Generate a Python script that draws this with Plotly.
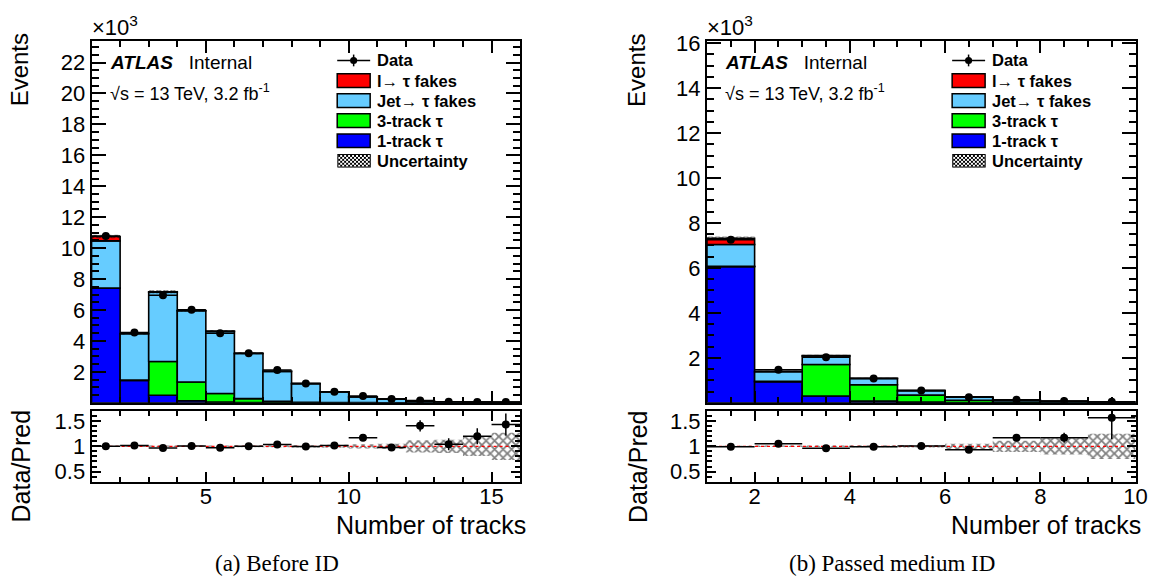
import base64
import numpy as np
import plotly.graph_objects as go

W, H = 1172, 585
FONT = "Liberation Sans"
SERIF = "Liberation Serif"

# ---------------- data (events, x10^3) ----------------
# (a) Before ID : bins 1..16 (number of tracks)
edges_a = list(range(1, 17))
one_track_a = [7.40, 1.45, 0.49, 0.13, 0.04, 0.02, 0.01, 0.005, 0.003, 0.002, 0.001, 0.001, 0.0, 0.0, 0.0]
three_track_a = [0.02, 0.02, 2.18, 1.21, 0.56, 0.25, 0.09, 0.03, 0.01, 0.005, 0.002, 0.001, 0.0, 0.0, 0.0]
jet_fakes_a = [3.05, 2.99, 4.48, 4.61, 4.01, 2.92, 1.93, 1.20, 0.69, 0.37, 0.24, 0.105, 0.068, 0.044, 0.029]
lep_fakes_a = [0.28, 0.02, 0.03, 0.02, 0.02, 0.01, 0.01, 0.01, 0.005, 0.003, 0.002, 0.001, 0.001, 0.001, 0.001]
data_a = [10.78, 4.55, 6.95, 6.02, 4.50, 3.20, 2.12, 1.24, 0.72, 0.445, 0.24, 0.152, 0.072, 0.054, 0.043]
ratio_err_a = [0.01, 0.015, 0.012, 0.013, 0.015, 0.018, 0.022, 0.03, 0.04, 0.06, 0.065, 0.11, 0.12, 0.16, 0.22]
rel_unc_a = [0.01, 0.015, 0.015, 0.015, 0.015, 0.02, 0.02, 0.025, 0.03, 0.04, 0.05, 0.12, 0.13, 0.19, 0.27]

# (b) Passed medium ID : bins 1..10
edges_b = list(range(1, 11))
one_track_b = [6.05, 0.94, 0.30, 0.08, 0.03, 0.015, 0.005, 0.003, 0.001]
three_track_b = [0.02, 0.01, 1.40, 0.72, 0.31, 0.10, 0.03, 0.01, 0.005]
jet_fakes_b = [0.97, 0.43, 0.38, 0.28, 0.20, 0.15, 0.08, 0.056, 0.023]
lep_fakes_b = [0.28, 0.02, 0.02, 0.01, 0.005, 0.003, 0.002, 0.001, 0.001]
data_b = [7.25, 1.47, 2.02, 1.08, 0.55, 0.25, 0.137, 0.082, 0.047]
ratio_err_up_b = [0.012, 0.027, 0.022, 0.03, 0.045, 0.06, 0.06, 0.10, 0.35]
ratio_err_dn_b = [0.012, 0.027, 0.022, 0.03, 0.045, 0.06, 0.06, 0.10, 0.42]
rel_unc_b = [0.01, 0.015, 0.015, 0.02, 0.025, 0.05, 0.11, 0.16, 0.25]

# axis settings
yticks_main_a = [2, 4, 6, 8, 10, 12, 14, 16, 18, 20, 22]
yticks_main_b = [2, 4, 6, 8, 10, 12, 14, 16]
yrange_main_a = [0, 23.4]
yrange_main_b = [0, 16.1]
ratio_range = [0.3, 1.7]
ratio_ticks = [0.5, 1, 1.5]
ratio_ticktext = ["0.5", "1", "1.5"]

labels = ["Data", "l\u2192 \u03c4 fakes", "Jet\u2192 \u03c4 fakes", "3-track \u03c4", "1-track \u03c4", "Uncertainty"]
COL_RED, COL_LB, COL_GREEN, COL_BLUE = "#FF0000", "#66CCFF", "#00FF00", "#0000FF"


def px(x):
    return x / W


def py(y):
    return 1 - y / H


XL = [px(92.5), px(525.5)]
XR = [px(714.3), px(1147.3)]
YM = [py(401), py(31.5)]
YR = [py(481.5), py(409.5)]

fig = go.Figure()

HATCH_MAIN = dict(shape="x", fgcolor="black", bgcolor="rgba(0,0,0,0)", size=5, solidity=0.5)
HATCH_RATIO = dict(shape="x", fgcolor="black", bgcolor="rgba(0,0,0,0)", size=6, solidity=0.5)


def add_panel(xa, ya, xa2, ya2, edges, comps, data, r_up, r_dn, unc):
    edges = np.array(edges, dtype=float)
    centers = 0.5 * (edges[:-1] + edges[1:])
    widths = np.diff(edges)
    base = np.zeros(len(centers))
    for vals, col in comps:
        vals = np.array(vals, dtype=float)
        fig.add_trace(go.Bar(x=centers, y=vals, base=base.copy(), width=widths,
                             marker=dict(color=col, line=dict(color="black", width=1.6)),
                             xaxis=xa, yaxis=ya, showlegend=False, hoverinfo="skip"))
        base = base + vals
    total = base
    unc = np.array(unc)
    fig.add_trace(go.Bar(x=centers, y=2 * unc * total, base=total - unc * total, width=widths,
                         marker=dict(color="rgba(0,0,0,0)", line=dict(width=0), pattern=HATCH_MAIN),
                         xaxis=xa, yaxis=ya, showlegend=False, hoverinfo="skip"))
    data = np.array(data)
    r_up = np.array(r_up)
    r_dn = np.array(r_dn)
    fig.add_trace(go.Scatter(x=centers, y=data, mode="markers",
                             marker=dict(color="black", size=8),
                             error_x=dict(type="data", array=widths / 2, width=0, thickness=1.5, color="black"),
                             error_y=dict(type="data", array=r_up * total, arrayminus=r_dn * total,
                                          width=0, thickness=1.5, color="black"),
                             xaxis=xa, yaxis=ya, showlegend=False))
    # ratio panel
    fig.add_trace(go.Bar(x=centers, y=2 * unc, base=1 - unc, width=widths,
                         marker=dict(color="rgba(0,0,0,0)", line=dict(width=0), pattern=HATCH_RATIO),
                         xaxis=xa2, yaxis=ya2, showlegend=False, hoverinfo="skip"))
    fig.add_trace(go.Scatter(x=[edges[0], edges[-1]], y=[1, 1], mode="lines",
                             line=dict(color="red", width=1.2, dash="3px,3px"),
                             xaxis=xa2, yaxis=ya2, showlegend=False, hoverinfo="skip"))
    fig.add_trace(go.Scatter(x=centers, y=data / total, mode="markers",
                             marker=dict(color="black", size=8),
                             error_x=dict(type="data", array=widths / 2, width=0, thickness=1.5, color="black"),
                             error_y=dict(type="data", array=r_up, arrayminus=r_dn,
                                          width=0, thickness=1.5, color="black"),
                             xaxis=xa2, yaxis=ya2, showlegend=False))


add_panel("x", "y", "x2", "y2", edges_a,
          [(one_track_a, COL_BLUE), (three_track_a, COL_GREEN), (jet_fakes_a, COL_LB), (lep_fakes_a, COL_RED)],
          data_a, ratio_err_a, ratio_err_a, rel_unc_a)
add_panel("x3", "y3", "x4", "y4", edges_b,
          [(one_track_b, COL_BLUE), (three_track_b, COL_GREEN), (jet_fakes_b, COL_LB), (lep_fakes_b, COL_RED)],
          data_b, ratio_err_up_b, ratio_err_dn_b, rel_unc_b)


def ax(**kw):
    d = dict(showline=True, linecolor="black", linewidth=2, mirror="allticks", ticks="inside",
             tickcolor="black", tickwidth=1.5, showgrid=False, zeroline=False,
             tickfont=dict(family=FONT, size=22, color="black"))
    d.update(kw)
    return d


def minor(dt, ln):
    return dict(dtick=dt, tick0=0, ticklen=ln, ticks="inside", tickcolor="black", tickwidth=1.5, showgrid=False)


fig.update_layout(
    width=W, height=H, margin=dict(l=0, r=0, t=0, b=0),
    paper_bgcolor="white", plot_bgcolor="white", barmode="overlay", showlegend=False,
    xaxis=ax(domain=XL, anchor="y", range=[edges_a[0], edges_a[-1]], tickmode="linear", tick0=0, dtick=5,
             ticklen=12, showticklabels=False, minor=minor(1, 6)),
    yaxis=ax(domain=YM, anchor="x", range=yrange_main_a, tickmode="array", tickvals=yticks_main_a,
             ticklen=14, minor=minor(0.5, 7)),
    xaxis2=ax(domain=XL, anchor="y2", range=[edges_a[0], edges_a[-1]], tickmode="linear", tick0=0, dtick=5,
              ticklen=10, minor=minor(1, 5), ticklabelstandoff=-6),
    yaxis2=ax(domain=YR, anchor="x2", range=ratio_range, tickmode="array", tickvals=ratio_ticks,
              ticktext=ratio_ticktext, ticklen=9, minor=minor(0.1, 5)),
    xaxis3=ax(domain=XR, anchor="y3", range=[edges_b[0], edges_b[-1]], tickmode="linear", tick0=0, dtick=2,
              ticklen=12, showticklabels=False, minor=minor(0.5, 6)),
    yaxis3=ax(domain=YM, anchor="x3", range=yrange_main_b, tickmode="array", tickvals=yticks_main_b,
              ticklen=14, minor=minor(0.5, 7)),
    xaxis4=ax(domain=XR, anchor="y4", range=[edges_b[0], edges_b[-1]], tickmode="linear", tick0=0, dtick=2,
              ticklen=10, minor=minor(0.5, 5), ticklabelstandoff=-6),
    yaxis4=ax(domain=YR, anchor="x4", range=ratio_range, tickmode="array", tickvals=ratio_ticks,
              ticktext=ratio_ticktext, ticklen=9, minor=minor(0.1, 5)),
)

ann = []
shapes = []
images = []


def text(x, y, s, size, xanchor="left", yanchor="middle", angle=0, family=FONT):
    ann.append(dict(x=px(x), y=py(y), xref="paper", yref="paper", text=s, showarrow=False,
                    xanchor=xanchor, yanchor=yanchor, textangle=angle, borderpad=0,
                    font=dict(family=family, size=size, color="black")))


hatch_svg = ("<svg xmlns='http://www.w3.org/2000/svg' width='34' height='14'>"
             "<defs><pattern id='h' width='4' height='4' patternUnits='userSpaceOnUse'>"
             "<path d='M0,0L4,4M4,0L0,4' stroke='black' stroke-width='1'/></pattern></defs>"
             "<rect x='0.5' y='0.5' width='33' height='13' fill='white'/>"
             "<rect x='0.5' y='0.5' width='33' height='13' fill='url(#h)' stroke='black' stroke-width='1'/></svg>")
hatch_uri = "data:image/svg+xml;base64," + base64.b64encode(hatch_svg.encode()).decode()

for x0, xdom_left, xdom_right, ylab_x, cap_x, cap in [
        (340.7, 92.5, 525.5, 19.5, 280, "(a) Before ID"),
        (962.0, 714.3, 1147.3, 642.5, 901, "(b) Passed medium ID")]:
    # axis titles
    text(ylab_x, 23, "Events", 24, xanchor="center", yanchor="top", angle=-90)
    text(ylab_x + 2, 407, "Data/Pred", 25, xanchor="center", yanchor="top", angle=-90)
    text(xdom_right + 7, 526, "Number of tracks", 25, xanchor="right")
    text(cap_x, 565, cap, 23, xanchor="center", family=SERIF)
    text(xdom_left - 1, 32, "\u00d710<sup>3</sup>", 22, yanchor="bottom")
    # ATLAS label
    text(xdom_left + 17.5, 54, "<b><i>ATLAS</i></b>\u00a0\u00a0\u00a0Internal", 19)
    text(xdom_left + 17.5, 84, "\u221as = 13 TeV, 3.2 fb<sup>-1</sup>", 18)
    # legend
    cols = [None, COL_RED, COL_LB, COL_GREEN, COL_BLUE, None]
    for i, (lab, col) in enumerate(zip(labels, cols)):
        yc = 51.5 + i * 20.5
        text(x0 + 39.5, yc, "<b>" + lab + "</b>", 16.5)
        if i == 0:
            shapes.append(dict(type="line", xref="paper", yref="paper", x0=px(x0), x1=px(x0 + 33.3),
                               y0=py(yc), y1=py(yc), line=dict(color="black", width=1.5)))
            shapes.append(dict(type="line", xref="paper", yref="paper", x0=px(x0 + 16.6), x1=px(x0 + 16.6),
                               y0=py(yc - 6), y1=py(yc + 6), line=dict(color="black", width=1.5)))
            shapes.append(dict(type="circle", xref="paper", yref="paper", x0=px(x0 + 13), x1=px(x0 + 20.2),
                               y0=py(yc - 3.6), y1=py(yc + 3.6), fillcolor="black",
                               line=dict(color="black", width=0)))
        elif col is not None:
            shapes.append(dict(type="rect", xref="paper", yref="paper", x0=px(x0), x1=px(x0 + 33.3),
                               y0=py(yc - 7), y1=py(yc + 7), fillcolor=col,
                               line=dict(color="black", width=1.5)))
        else:
            images.append(dict(source=hatch_uri, xref="paper", yref="paper", x=px(x0), y=py(yc - 7),
                               sizex=34 / W, sizey=14 / H, xanchor="left", yanchor="top",
                               sizing="stretch", layer="above"))

fig.update_layout(annotations=ann, shapes=shapes, images=images)
fig.write_html("out.html")
